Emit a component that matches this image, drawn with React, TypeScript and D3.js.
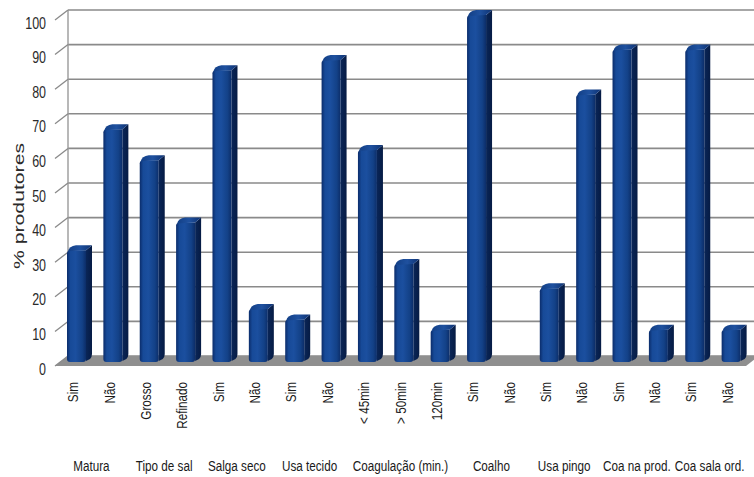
import React from "react";
import * as d3 from "d3";

// Bar categories (rotated labels) and their percentages
const categories = [
  "Sim", "Não", "Grosso", "Refinado", "Sim", "Não", "Sim", "Não",
  "< 45min", "> 50min", "120min", "Sim", "Não", "Sim", "Não",
  "Sim", "Não", "Sim", "Não",
];
const values = [32, 67, 58, 40, 84, 15, 12, 87, 61, 28, 9, 100, 0, 21, 77, 90, 9, 90, 9];

// Question groups under the bars
const groupLabels = [
  "Matura", "Tipo de sal", "Salga seco", "Usa tecido", "Coagulação (min.)",
  "Coalho", "Usa pingo", "Coa na prod.", "Coa sala ord.",
];
const groupSizes = [2, 2, 2, 2, 3, 2, 2, 2, 2];

const yTicks = [0, 10, 20, 30, 40, 50, 60, 70, 80, 90, 100];
const yTitle = "% produtores";

const W = 754;
const H = 477;
const DX = 13; // depth offset of the wall
const DY = -10;
const BDX = 6; // bar depth offset
const BDY = -5;
const FONT = "'Liberation Sans', Arial, sans-serif";
const NARROW = 0.78; // horizontal squeeze for a condensed look

export default function App() {
  const y = d3.scaleLinear().domain([0, 100]).range([356, 10]);
  const x = d3
    .scaleBand<number>()
    .domain(categories.map((_, i) => i))
    .range([55, 746])
    .padding(0);
  const bw = x.bandwidth();
  const frontW = 19;
  const barBottom = 362;

  const x0 = x.range()[0];
  const x1 = x.range()[1];
  const floor = `M${x0},${y(0) - DY} L${x1},${y(0) - DY} L${x1 + DX},${y(0)} L${x0 + DX},${y(0)} Z`;

  const groupStarts: number[] = [];
  groupSizes.reduce((acc, n) => {
    groupStarts.push(acc);
    return acc + n;
  }, 0);

  return (
    <svg
      width={W}
      height={H}
      style={{ position: "absolute", left: 0, top: 0, background: "#fff" }}
    >
      <defs>
        <linearGradient id="barFront" x1="0" x2="1" y1="0" y2="0">
          <stop offset="0" stopColor="#0b2c6a" />
          <stop offset="0.18" stopColor="#174a98" />
          <stop offset="0.45" stopColor="#1b4f9f" />
          <stop offset="0.8" stopColor="#134187" />
          <stop offset="1" stopColor="#0c2d68" />
        </linearGradient>
        <linearGradient id="barSide" x1="0" x2="1" y1="0" y2="0">
          <stop offset="0" stopColor="#0a2658" />
          <stop offset="1" stopColor="#061b44" />
        </linearGradient>
        <linearGradient id="barTop" x1="0" x2="1" y1="0" y2="0">
          <stop offset="0" stopColor="#123f86" />
          <stop offset="0.5" stopColor="#1f519f" />
          <stop offset="1" stopColor="#0e3272" />
        </linearGradient>
      </defs>

      {/* back wall gridlines */}
      {yTicks.map((t) => (
        <line
          key={"g" + t}
          x1={x0 + DX}
          x2={W}
          y1={y(t)}
          y2={y(t)}
          stroke="#8a8a8a"
          strokeWidth={1.6}
        />
      ))}
      <line x1={x0 + DX} x2={x0 + DX} y1={y(100)} y2={y(0)} stroke="#9a9a9a" strokeWidth={1.4} />

      {/* floor */}
      <path d={floor} fill="#8f8f8f" />

      {/* depth ticks and value labels */}
      {yTicks.map((t) => (
        <g key={"t" + t}>
          <line
            x1={x0}
            y1={y(t) - DY}
            x2={x0 + DX}
            y2={y(t)}
            stroke="#8a8a8a"
            strokeWidth={1.3}
          />
          <text
            transform={`translate(46,${y(t) - DY + 3}) scale(${NARROW},1)`}
            textAnchor="end"
            dominantBaseline="central"
            fontFamily={FONT}
            fontSize={16}
            fill="#2a2a2a"
          >
            {t}
          </text>
        </g>
      ))}

      {/* bars */}
      {values.map((v, i) => {
        if (v <= 0) return null;
        const bx = (x(i) as number) + 12;
        const topF = y(v) - BDY;
        const r = 3;
        const front = `M${bx},${topF + 3} Q${bx},${topF} ${bx + 4},${topF} L${bx + frontW},${topF} L${bx + frontW},${barBottom - r} Q${bx + frontW},${barBottom} ${bx + frontW - r},${barBottom} L${bx + r},${barBottom} Q${bx},${barBottom} ${bx},${barBottom - r} Z`;
        const side = `M${bx + frontW},${topF} L${bx + frontW + BDX},${topF + BDY} L${bx + frontW + BDX},${barBottom + BDY - r} Q${bx + frontW + BDX},${barBottom + BDY} ${bx + frontW + BDX - 2},${barBottom + BDY + 2} L${bx + frontW},${barBottom - 1} Z`;
        const top = `M${bx + 1},${topF + 1} Q${bx + 2},${topF + BDY + 1} ${bx + BDX + 3},${topF + BDY} L${bx + frontW + BDX},${topF + BDY} L${bx + frontW},${topF} Z`;
        return (
          <g key={"b" + i}>
            <path d={side} fill="url(#barSide)" />
            <path d={front} fill="url(#barFront)" />
            <path d={top} fill="url(#barTop)" />
          </g>
        );
      })}

      {/* category labels */}
      {categories.map((c, i) => {
        const cx = (x(i) as number) + bw / 2;
        return (
          <text
            key={"c" + i}
            transform={`translate(${cx},382) rotate(-90) scale(${NARROW},1)`}
            textAnchor="end"
            dominantBaseline="central"
            fontFamily={FONT}
            fontSize={15}
            fill="#1a1a1a"
          >
            {c}
          </text>
        );
      })}

      {/* group labels */}
      {groupLabels.map((g, gi) => {
        const s = groupStarts[gi];
        const e = s + groupSizes[gi] - 1;
        const cx = ((x(s) as number) + (x(e) as number) + bw) / 2;
        return (
          <text
            key={"gl" + gi}
            transform={`translate(${cx},466) scale(${NARROW},1)`}
            textAnchor="middle"
            dominantBaseline="central"
            fontFamily={FONT}
            fontSize={15}
            fill="#1a1a1a"
          >
            {g}
          </text>
        );
      })}

      {/* axis title */}
      <text
        transform="translate(19,206) rotate(-90)"
        textAnchor="middle"
        dominantBaseline="central"
        fontFamily={FONT}
        fontSize={14}
        textLength={126}
        lengthAdjust="spacingAndGlyphs"
        fill="#2a2a2a"
      >
        {yTitle}
      </text>
    </svg>
  );
}
